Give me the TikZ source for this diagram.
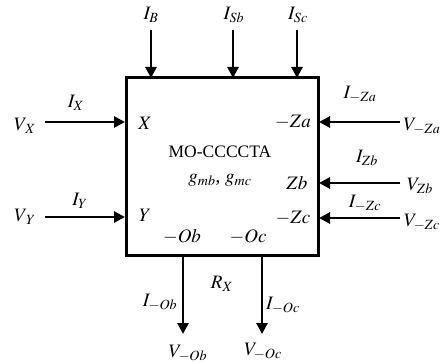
\documentclass[tikz,border=0pt]{standalone}
\usepackage{mathptmx}
\usepackage[no-math]{fontspec}
\setmainfont{Liberation Serif}
\usetikzlibrary{arrows.meta}
\begin{document}
\begin{tikzpicture}[x=1pt,y=-1pt,
  lbl/.style={inner sep=0pt, font=\fontsize{19}{21}\selectfont},
  ttl/.style={inner sep=0pt, font=\fontsize{17.5}{20}\selectfont},
  sig/.style={line width=2.8pt, -{Triangle[length=11pt,width=11pt]}}]
\useasboundingbox (0,0) rectangle (443,363);
\node[draw, line width=3pt, minimum width=192pt, minimum height=177pt, inner sep=0pt] (box) at (222,166.5) {};
% internal labels
\node[ttl] (title) at (220,152) {MO-CCCCTA};
\node[lbl] (gm) at (220,180) {$g_{mb}$, $g_{mc}$};
\node[lbl] (pX) at (145,123) {$X$};
\node[lbl] (pY) at (145,215) {$Y$};
\node[lbl] (pZa) at (293,122) {$-Za$};
\node[lbl] (pZb) at (297,183) {$Zb$};
\node[lbl] (pZc) at (293,218) {$-Zc$};
\node[lbl] (pOb) at (182,237) {$-Ob$};
\node[lbl] (pOc) at (248,237) {$-Oc$};
% top
\node[lbl] (IB) at (151,15) {$I_B$};
\node[lbl] (ISb) at (234,15) {$I_{Sb}$};
\node[lbl] (ISc) at (298,15) {$I_{Sc}$};
\coordinate (tB) at (151,30); \coordinate (hB) at (151,78);
\coordinate (tSb) at (233,30); \coordinate (hSb) at (233,78);
\coordinate (tSc) at (297,30); \coordinate (hSc) at (297,78);
\draw[sig] (tB) -- (hB);
\draw[sig] (tSb) -- (hSb);
\draw[sig] (tSc) -- (hSc);
% left
\node[lbl] (VX) at (25,126) {$V_{\mkern2mu X}$};
\node[lbl] (IX) at (76,103) {$I_X$};
\node[lbl] (VY) at (25,217) {$V_{\mkern3mu Y}$};
\node[lbl] (IY) at (80,201) {$I_Y$};
\coordinate (tX) at (45,122); \coordinate (hX) at (125,122);
\coordinate (tY) at (45,217); \coordinate (hY) at (125,217);
\draw[sig] (tX) -- (hX);
\draw[sig] (tY) -- (hY);
% right
\node[lbl] (VZa) at (422,126) {$V_{-Za}$};
\node[lbl] (IZa) at (360,94) {$I_{-Za}$};
\node[lbl] (VZb) at (420,186) {$V_{Zb}$};
\node[lbl] (IZb) at (367,158) {$I_{Zb}$};
\node[lbl] (VZc) at (422,222) {$V_{-Zc}$};
\node[lbl] (IZc) at (365,203) {$I_{-Zc}$};
\coordinate (tZa) at (400,122); \coordinate (hZa) at (319,122);
\coordinate (tZb) at (400,183); \coordinate (hZb) at (319,183);
\coordinate (tZc) at (400,218); \coordinate (hZc) at (319,218);
\draw[sig] (tZa) -- (hZa);
\draw[sig] (tZb) -- (hZb);
\draw[sig] (tZc) -- (hZc);
% bottom
\coordinate (tOb) at (183,255); \coordinate (hOb) at (183,334);
\coordinate (tOc) at (262,255); \coordinate (hOc) at (262,334);
\draw[sig] (tOb) -- (hOb);
\draw[sig] (tOc) -- (hOc);
\node[lbl] (RX) at (222,284) {$R_X$};
\node[lbl] (IOb) at (160,302) {$I_{-Ob}$};
\node[lbl] (IOc) at (283,305) {$I_{-Oc}$};
\node[lbl] (VOb) at (188,353) {$V_{-Ob}$};
\node[lbl] (VOc) at (263,351) {$V_{-Oc}$};
\end{tikzpicture}
\end{document}
